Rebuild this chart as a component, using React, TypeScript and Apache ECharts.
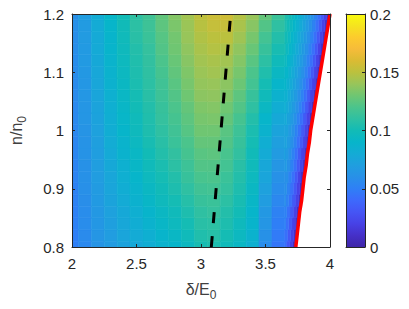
import React, { useEffect, useRef } from "react";
import * as echarts from "echarts";

// x centres of the coarse grid columns (δ/E0)
const xCenters = [2.0, 2.1, 2.2, 2.3, 2.4, 2.5, 2.6, 2.7, 2.8, 2.9, 3.0, 3.1, 3.2, 3.3, 3.4, 3.5, 3.6];
// y centres of rows (n/n0)
const yCenters = [0.8, 0.82, 0.84, 0.86, 0.88, 0.9, 0.92, 0.94, 0.96, 0.98, 1.0, 1.02, 1.04, 1.06, 1.08, 1.1, 1.12, 1.14, 1.16, 1.18, 1.2];

// coarse values, one row per y centre (bottom to top)
const coarse = [
  [0.050, 0.056, 0.063, 0.068, 0.073, 0.078, 0.082, 0.087, 0.090, 0.095, 0.102, 0.104, 0.098, 0.093, 0.085, 0.058, 0.046],
  [0.050, 0.057, 0.064, 0.069, 0.075, 0.080, 0.084, 0.089, 0.093, 0.098, 0.105, 0.107, 0.101, 0.095, 0.087, 0.061, 0.048],
  [0.051, 0.058, 0.065, 0.071, 0.077, 0.082, 0.087, 0.092, 0.096, 0.101, 0.108, 0.109, 0.104, 0.097, 0.089, 0.064, 0.050],
  [0.051, 0.058, 0.066, 0.072, 0.078, 0.084, 0.089, 0.094, 0.098, 0.104, 0.110, 0.112, 0.106, 0.100, 0.090, 0.066, 0.052],
  [0.052, 0.059, 0.067, 0.074, 0.080, 0.086, 0.092, 0.097, 0.101, 0.107, 0.113, 0.114, 0.109, 0.102, 0.092, 0.069, 0.055],
  [0.052, 0.060, 0.068, 0.075, 0.082, 0.088, 0.094, 0.099, 0.104, 0.110, 0.116, 0.117, 0.112, 0.104, 0.094, 0.072, 0.058],
  [0.053, 0.061, 0.069, 0.076, 0.084, 0.090, 0.096, 0.101, 0.106, 0.113, 0.119, 0.120, 0.114, 0.106, 0.096, 0.075, 0.061],
  [0.053, 0.061, 0.070, 0.078, 0.085, 0.092, 0.098, 0.103, 0.109, 0.115, 0.122, 0.122, 0.117, 0.108, 0.098, 0.077, 0.064],
  [0.054, 0.062, 0.070, 0.079, 0.087, 0.093, 0.100, 0.106, 0.111, 0.118, 0.124, 0.125, 0.119, 0.111, 0.099, 0.080, 0.068],
  [0.054, 0.062, 0.071, 0.081, 0.088, 0.095, 0.102, 0.108, 0.114, 0.120, 0.127, 0.127, 0.122, 0.113, 0.101, 0.083, 0.071],
  [0.055, 0.063, 0.072, 0.082, 0.090, 0.097, 0.104, 0.110, 0.116, 0.123, 0.130, 0.130, 0.124, 0.115, 0.103, 0.087, 0.074],
  [0.056, 0.064, 0.073, 0.083, 0.091, 0.098, 0.105, 0.112, 0.118, 0.125, 0.132, 0.133, 0.127, 0.118, 0.106, 0.090, 0.078],
  [0.056, 0.064, 0.074, 0.084, 0.092, 0.100, 0.106, 0.113, 0.120, 0.127, 0.134, 0.135, 0.130, 0.122, 0.110, 0.094, 0.082],
  [0.057, 0.065, 0.075, 0.085, 0.093, 0.101, 0.108, 0.115, 0.122, 0.130, 0.137, 0.138, 0.134, 0.125, 0.113, 0.098, 0.086],
  [0.057, 0.065, 0.076, 0.086, 0.094, 0.103, 0.109, 0.116, 0.124, 0.132, 0.139, 0.140, 0.137, 0.129, 0.117, 0.101, 0.090],
  [0.058, 0.066, 0.077, 0.087, 0.095, 0.104, 0.110, 0.118, 0.126, 0.134, 0.141, 0.143, 0.140, 0.132, 0.120, 0.105, 0.094],
  [0.058, 0.067, 0.078, 0.088, 0.096, 0.105, 0.111, 0.120, 0.128, 0.136, 0.143, 0.145, 0.143, 0.135, 0.124, 0.109, 0.098],
  [0.059, 0.067, 0.079, 0.089, 0.097, 0.106, 0.112, 0.122, 0.130, 0.138, 0.145, 0.148, 0.146, 0.138, 0.128, 0.113, 0.102],
  [0.059, 0.068, 0.079, 0.089, 0.098, 0.108, 0.114, 0.123, 0.131, 0.140, 0.147, 0.150, 0.150, 0.142, 0.132, 0.117, 0.106],
  [0.060, 0.068, 0.080, 0.090, 0.099, 0.109, 0.115, 0.125, 0.133, 0.141, 0.149, 0.153, 0.153, 0.145, 0.136, 0.122, 0.110],
  [0.060, 0.069, 0.081, 0.091, 0.100, 0.110, 0.116, 0.126, 0.135, 0.143, 0.151, 0.155, 0.156, 0.148, 0.140, 0.127, 0.114],
];

// boundary (red curve) x position for each row
const boundaryX = [3.735, 3.745, 3.755, 3.765, 3.78, 3.79, 3.8, 3.815, 3.825, 3.84, 3.85, 3.865, 3.88, 3.895, 3.91, 3.925, 3.94, 3.955, 3.97, 3.985, 4.0];
// fine values near the boundary, by 0.025-wide step away from the boundary
const edgeProfile = [0.008, 0.02, 0.032, 0.043, 0.052, 0.06, 0.067, 0.073, 0.079, 0.085, 0.09, 0.095, 0.1, 0.104];
const edgeStart = 3.65;
const edgeStep = 0.025;

// black dashed line
const dashX = [3.08, 3.23];
const dashY = [0.8, 1.2];

const xTicks = [2, 2.5, 3, 3.5, 4];
const yTicks = [0.8, 0.9, 1, 1.1, 1.2];
const cbTicks = [0, 0.05, 0.1, 0.15, 0.2];

const parula = [
  "#3e26a8", "#4530c8", "#4742e6", "#4555f5", "#3d69fc", "#2f7ff6", "#2890e8",
  "#209edf", "#14abd5", "#07b5ca", "#12bbb6", "#2fc0a2", "#4bc48c", "#6fc672",
  "#98c55a", "#bbc13e", "#dbbb33", "#f6bc3a", "#fccb2d", "#f5e41f", "#f9fb0e",
];

export default function App() {
  const ref = useRef<HTMLDivElement>(null);
  useEffect(() => {
    if (!ref.current) return;
    const chart = echarts.init(ref.current, undefined, { renderer: "svg" });

    const cells: number[][] = [];
    yCenters.forEach((y, i) => {
      const b = boundaryX[i];
      const y0 = y - 0.01;
      const y1 = y + 0.01;
      xCenters.forEach((x, j) => {
        const l = x - 0.05;
        const r = Math.min(x + 0.05, b);
        if (l < b) cells.push([l, r, y0, y1, coarse[i][j]]);
      });
      edgeProfile.forEach((v, k) => {
        const r = b - k * edgeStep;
        const l = Math.max(edgeStart, b - (k + 1) * edgeStep);
        if (r > edgeStart) cells.push([l, r, y0, y1, v]);
      });
    });

    const txt = "#262626";
    const font = "'Liberation Sans', Arial, sans-serif";
    const axisLine = { show: true, onZero: false, lineStyle: { color: txt, width: 1 } };
    const tick = { show: true, inside: true, length: 3, lineStyle: { color: txt, width: 1 } };

    const minX = xTicks[0], maxX = xTicks[xTicks.length - 1];
    const minY = yTicks[0], maxY = yTicks[yTicks.length - 1];
    const nameRich = {
      a: { fontSize: 16, fontFamily: font, color: "#404040" },
      b: { fontSize: 12, fontFamily: font, color: "#404040", padding: [12, 0, 0, 0] },
    };

    chart.setOption({
      animation: false,
      backgroundColor: "#ffffff",
      grid: [
        { left: 62, top: 14, width: 268, height: 233 },
        { left: 346, top: 14, width: 19, height: 233 },
      ],
      visualMap: {
        type: "continuous",
        show: false,
        min: cbTicks[0],
        max: cbTicks[cbTicks.length - 1],
        dimension: 4,
        seriesIndex: 0,
        inRange: { color: parula },
      },
      xAxis: [
        {
          gridIndex: 0, type: "value", min: minX, max: maxX, interval: 0.5, position: "bottom",
          axisLine, axisTick: tick, splitLine: { show: false }, z: 10,
          axisLabel: { color: txt, fontSize: 15, fontFamily: font, margin: 9 },
          name: "{a|δ/E}{b|0}", nameLocation: "middle", nameGap: 30,
          nameTextStyle: { rich: nameRich },
        },
        {
          gridIndex: 0, type: "value", min: minX, max: maxX, interval: 0.5, position: "top",
          axisLine, axisTick: tick, axisLabel: { show: false }, splitLine: { show: false }, z: 10,
        },
        {
          gridIndex: 1, type: "value", min: 0, max: 1, position: "bottom",
          axisLine, axisTick: { show: false }, axisLabel: { show: false }, splitLine: { show: false }, z: 10,
        },
        {
          gridIndex: 1, type: "value", min: 0, max: 1, position: "top",
          axisLine, axisTick: { show: false }, axisLabel: { show: false }, splitLine: { show: false }, z: 10,
        },
      ],
      yAxis: [
        {
          gridIndex: 0, type: "value", min: minY, max: maxY, interval: 0.1, position: "left",
          axisLine, axisTick: tick, splitLine: { show: false }, z: 10,
          axisLabel: { color: txt, fontSize: 15, fontFamily: font, margin: 8 },
          name: "{a|n/n}{b|0}", nameLocation: "middle", nameGap: 44, nameRotate: 90,
          nameTextStyle: { rich: nameRich },
        },
        {
          gridIndex: 0, type: "value", min: minY, max: maxY, interval: 0.1, position: "right",
          axisLine, axisTick: tick, axisLabel: { show: false }, splitLine: { show: false }, z: 10,
        },
        {
          gridIndex: 1, type: "value", min: 0, max: 1, position: "left",
          axisLine, axisTick: { show: false }, axisLabel: { show: false }, splitLine: { show: false }, z: 10,
        },
        {
          gridIndex: 1, type: "value", min: cbTicks[0], max: cbTicks[cbTicks.length - 1], interval: 0.05,
          position: "right", axisLine, axisTick: tick, splitLine: { show: false }, z: 10,
          axisLabel: { color: txt, fontSize: 15, fontFamily: font, margin: 5 },
        },
      ],
      series: [
        {
          type: "custom",
          xAxisIndex: 0,
          yAxisIndex: 0,
          clip: true,
          encode: { x: [0, 1], y: [2, 3] },
          data: cells,
          renderItem: (params: any, api: any) => {
            const p0 = api.coord([api.value(0), api.value(3)]);
            const p1 = api.coord([api.value(1), api.value(2)]);
            const c = api.visual("color");
            return {
              type: "rect",
              shape: { x: p0[0], y: p0[1], width: p1[0] - p0[0], height: p1[1] - p0[1] },
              style: { fill: c, stroke: c, lineWidth: 0.6 },
            };
          },
          z: 2,
        },
        {
          type: "line",
          xAxisIndex: 0,
          yAxisIndex: 0,
          data: boundaryX.map((b, i) => [b, yCenters[i]]),
          symbol: "none",
          lineStyle: { color: "#ff0000", width: 3.5 },
          clip: true,
          z: 4,
        },
        {
          type: "line",
          xAxisIndex: 0,
          yAxisIndex: 0,
          data: dashX.map((x, i) => [x, dashY[i]]),
          symbol: "none",
          lineStyle: { color: "#000000", width: 3, type: [11, 13] },
          clip: true,
          z: 5,
        },
        {
          type: "custom",
          xAxisIndex: 2,
          yAxisIndex: 2,
          data: [[0]],
          renderItem: (params: any) => {
            const cs = params.coordSys;
            const stops = parula.map((c, i) => ({ offset: 1 - i / (parula.length - 1), color: c }));
            stops.reverse();
            return {
              type: "rect",
              shape: { x: cs.x, y: cs.y, width: cs.width, height: cs.height },
              style: { fill: new echarts.graphic.LinearGradient(0, 0, 0, 1, stops) },
            };
          },
          z: 2,
        },
      ],
    });
    return () => chart.dispose();
  }, []);
  return <div ref={ref} style={{ position: "fixed", left: 0, top: 0, width: 409, height: 309 }} />;
}
